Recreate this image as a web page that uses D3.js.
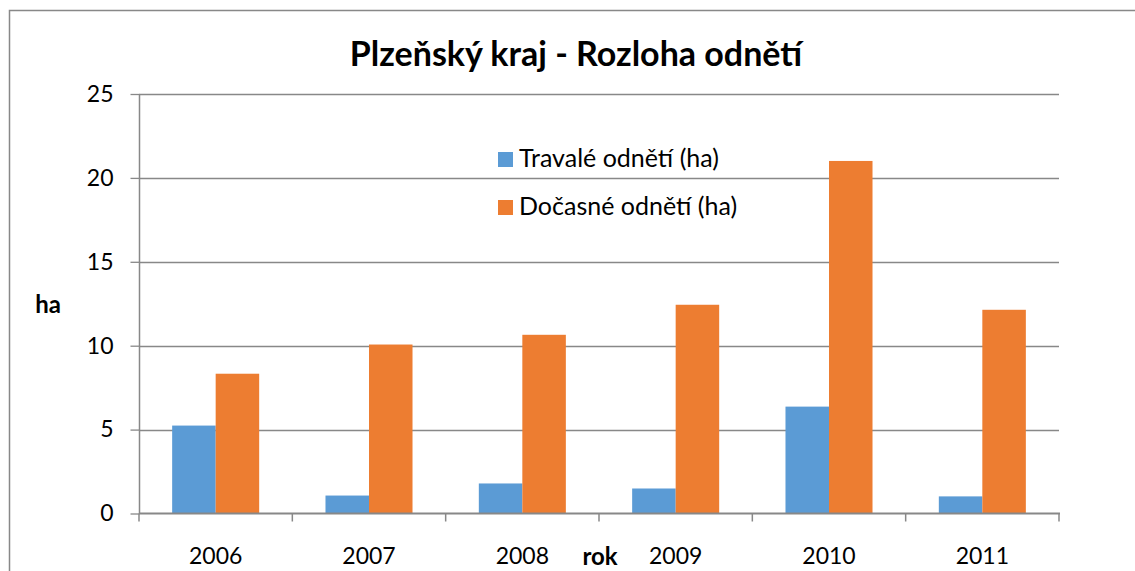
<!DOCTYPE html>
<html>
<head>
<meta charset="utf-8">
<script src="https://cdn.jsdelivr.net/npm/d3@7"></script>
<style>
  html, body { margin: 0; background: #fff; overflow: hidden; }
  svg { display: block; font-family: Lato, "Open Sans", sans-serif; }
</style>
</head>
<body>
<svg id="chart"></svg>
<script>
const years = ['2006', '2007', '2008', '2009', '2010', '2011']
const seriesNames = ['Travalé odnětí (ha)', 'Dočasné odnětí (ha)']
const travale = [5.24, 1.07, 1.79, 1.49, 6.37, 1.02]
const docasne = [8.33, 10.07, 10.65, 12.44, 21.01, 12.14]
const yTicks = [0, 5, 10, 15, 20, 25]
const colors = ['#5b9bd5', '#ed7d31']

const w = 1135
const h = 571
const svg = d3.select('#chart').attr('width', w).attr('height', h)
const gray = '#888888'

// outer frame, runs off the right and bottom edge like the original
svg.append('rect')
   .attr('x', 9.5).attr('y', 10.5)
   .attr('width', w + 20).attr('height', h + 20)
   .attr('fill', 'none').attr('stroke', gray).attr('stroke-width', 1.5)

const x0 = d3.scaleBand().domain(years).range([139, 1059])
const x1 = d3.scaleBand().domain(seriesNames).range([0, x0.bandwidth()]).paddingOuter(0.762)
const y = d3.scaleLinear().domain([0, 25]).range([513.5, 94])

// gridlines
svg.append('g')
   .selectAll('line')
   .data(yTicks.filter(d => d > 0))
   .enter()
   .append('line')
   .attr('x1', 139).attr('x2', 1059)
   .attr('y1', d => Math.round(y(d)) + 0.5).attr('y2', d => Math.round(y(d)) + 0.5)
   .attr('stroke', gray).attr('stroke-width', 1.3)

// bars
const rows = years.map((yr, i) => ({ year: yr, values: [travale[i], docasne[i]] }))
svg.append('g')
   .selectAll('g')
   .data(rows)
   .enter()
   .append('g')
   .attr('transform', d => `translate(${x0(d.year)},0)`)
   .selectAll('rect')
   .data(d => d.values.map((v, j) => ({ name: seriesNames[j], value: v, j })))
   .enter()
   .append('rect')
   .attr('x', d => x1(d.name))
   .attr('width', x1.bandwidth())
   .attr('y', d => y(d.value))
   .attr('height', d => y(0) - y(d.value))
   .attr('fill', d => colors[d.j])

// y axis
const yAxis = d3.axisLeft(y).tickValues(yTicks).tickSize(9).tickPadding(17)
const gy = svg.append('g').attr('transform', 'translate(139.5,0)').call(yAxis)
gy.select('.domain').attr('stroke', gray).attr('stroke-width', 1.5).attr('d', `M0,${y(25)}V${y(0)}`)
gy.selectAll('.tick line').attr('stroke', gray).attr('stroke-width', 1.3)
gy.selectAll('.tick text').attr('font-size', 23).attr('fill', '#000').attr('font-family', 'Lato')

// x axis with ticks on the band edges
const gx = svg.append('g').attr('transform', `translate(0,${y(0)})`)
gx.append('line').attr('x1', 139).attr('x2', 1060).attr('stroke', gray).attr('stroke-width', 2)
gx.selectAll('.edge')
  .data(years.concat(['end']))
  .enter()
  .append('line')
  .attr('x1', (d, i) => i < years.length ? x0(d) : x0.range()[1])
  .attr('x2', (d, i) => i < years.length ? x0(d) : x0.range()[1])
  .attr('y1', 0).attr('y2', 8)
  .attr('stroke', gray).attr('stroke-width', 1.5)
gx.selectAll('.lbl')
  .data(years)
  .enter()
  .append('text')
  .attr('x', d => x0(d) + x0.bandwidth() / 2)
  .attr('y', 50)
  .attr('text-anchor', 'middle')
  .attr('font-size', 23)
  .text(d => d)

// title and axis titles
svg.append('text')
   .attr('x', 576).attr('y', 66)
   .attr('text-anchor', 'middle')
   .attr('font-size', 34).attr('font-weight', 'bold')
   .text('Plzeňský kraj - Rozloha odnětí')
svg.append('text')
   .attr('x', 48).attr('y', 313)
   .attr('text-anchor', 'middle')
   .attr('font-size', 24).attr('font-weight', 'bold')
   .text('ha')
svg.append('text')
   .attr('x', 600).attr('y', 565)
   .attr('text-anchor', 'middle')
   .attr('font-size', 24).attr('font-weight', 'bold')
   .text('rok')

// legend
const legend = svg.append('g').attr('transform', 'translate(498,152)')
const item = legend.selectAll('g')
  .data(seriesNames)
  .enter()
  .append('g')
  .attr('transform', (d, i) => `translate(0,${i * 48})`)
item.append('rect').attr('width', 15).attr('height', 15).attr('fill', (d, i) => colors[i])
item.append('text').attr('x', 21).attr('y', 15).attr('font-size', 25).text(d => d)
</script>
</body>
</html>
